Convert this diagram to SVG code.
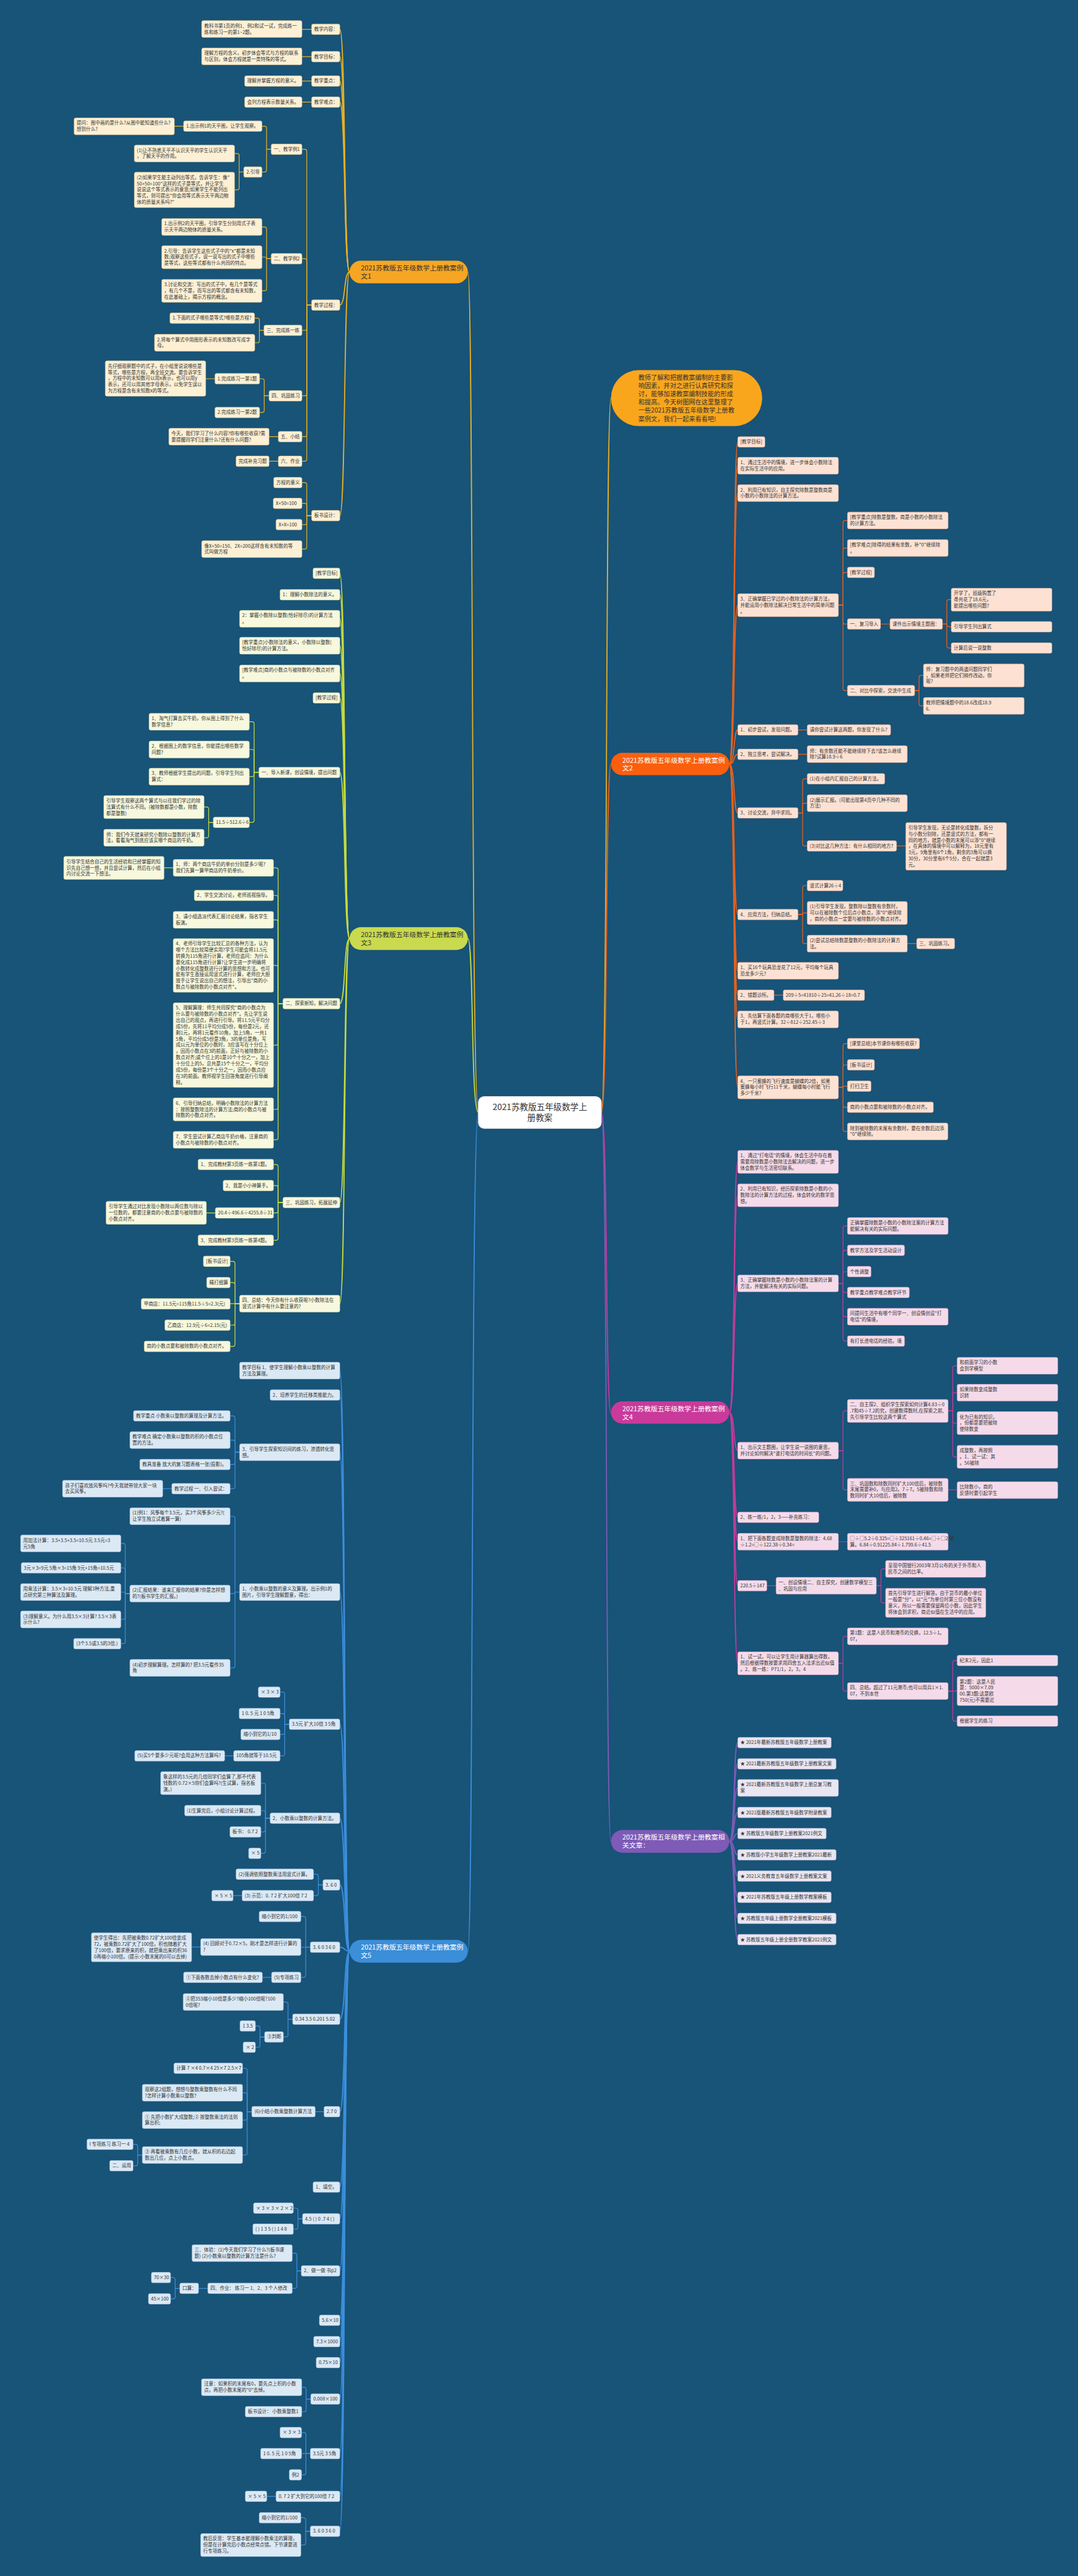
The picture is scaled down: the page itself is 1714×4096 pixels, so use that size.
<svg xmlns="http://www.w3.org/2000/svg" width="1714" height="4096" viewBox="0 0 1714 4096">
<style>
text{font-family:"Noto Sans CJK SC","Noto Sans",sans-serif;font-size:11.2px;fill:#333}
.n rect{rx:4px;stroke-width:.8}
.m rect{rx:27px}
.m text{font-size:16px;fill:#fff}
.g1 rect{fill:#fdf0d5;stroke:#e8cd8c}
.g3 rect{fill:#f7f8dd;stroke:#dde6a2}
.g5 rect{fill:#dbe9f5;stroke:#a7c8e6}
.g2 rect{fill:#fde2d3;stroke:#f0b496}
.g4 rect{fill:#f5dbe9;stroke:#e0a5c8}
.g6 rect{fill:#e9e6f2;stroke:#c3b7de}
#conn path{fill:none;stroke-width:1.8;stroke-linecap:round}
.c1{stroke:#e8b124}.c3{stroke:#c5dc3e}.c5{stroke:#3c8fdb}.c2{stroke:#e8611c}.c4{stroke:#c33b99}.c6{stroke:#7b5cb5}
#conn path.t{stroke-width:2.6}
</style>
<rect width="1714" height="4096" fill="#185378"/>
<g transform="scale(0.66953)">
<g id="conn">
<path class="c1 t" d="M1136 2642C1118 2642 1125 646 1111 646"/>
<path class="c3 t" d="M1136 2642C1118 2642 1125 2229 1111 2229"/>
<path class="c5 t" d="M1136 2642C1118 2642 1125 4634 1111 4634"/>
<path class="c1 t" d="M1428 2642C1444 2642 1437 945.5 1451 945.5"/>
<path class="c2 t" d="M1428 2642C1444 2642 1437 1814.5 1451 1814.5"/>
<path class="c4 t" d="M1428 2642C1444 2642 1437 3354.5 1451 3354.5"/>
<path class="c6 t" d="M1428 2642C1444 2642 1437 4373 1451 4373"/>
<path class="c1 t" d="M830 646C816 646 821 69.5 807 69.5"/>
<path class="c1 t" d="M830 646C816 646 821 134.5 807 134.5"/>
<path class="c1 t" d="M830 646C816 646 821 192.5 807 192.5"/>
<path class="c1 t" d="M830 646C816 646 821 242.5 807 242.5"/>
<path class="c1 t" d="M830 646C816 646 821 724.5 807 724.5"/>
<path class="c1 t" d="M830 646C816 646 821 1224.5 807 1224.5"/>
<path class="c1" d="M740 69.5H717"/>
<path class="c1" d="M740 134.5H717"/>
<path class="c1" d="M740 192.5H717"/>
<path class="c1" d="M740 242.5H717"/>
<path class="c1" d="M740 724.5H728.5V359.5Q728.5 354.5 723.5 354.5H717"/>
<path class="c1" d="M740 724.5H728.5V619.5Q728.5 614.5 723.5 614.5H717"/>
<path class="c1" d="M740 724.5H728.5V779.5Q728.5 784.5 723.5 784.5H717"/>
<path class="c1" d="M740 724.5H728.5V935Q728.5 940 723.5 940H717"/>
<path class="c1" d="M740 724.5H728.5V1032Q728.5 1037 723.5 1037H717"/>
<path class="c1" d="M740 724.5H728.5V1090.5Q728.5 1095.5 723.5 1095.5H717"/>
<path class="c1" d="M644 354.5H633V304.5Q633 299.5 628 299.5H622"/>
<path class="c1" d="M644 354.5H633V403.5Q633 408.5 628 408.5H622"/>
<path class="c1" d="M436 299.5H414"/>
<path class="c1" d="M579 408.5H568V369.5Q568 364.5 563 364.5H557"/>
<path class="c1" d="M579 408.5H568V446Q568 451 563 451H557"/>
<path class="c1" d="M644 614.5H633V544Q633 539 628 539H622"/>
<path class="c1" d="M644 614.5H633Q633 610.5 628 610.5H622"/>
<path class="c1" d="M644 614.5H633V685.5Q633 690.5 628 690.5H622"/>
<path class="c1" d="M627 784.5H616V760.5Q616 755.5 611 755.5H605"/>
<path class="c1" d="M627 784.5H616V809Q616 814 611 814H605"/>
<path class="c1" d="M639 940H627.5V904.5Q627.5 899.5 622.5 899.5H616.5"/>
<path class="c1" d="M639 940H627.5V974.5Q627.5 979.5 622.5 979.5H616.5"/>
<path class="c1" d="M510.5 899.5H488.5"/>
<path class="c1" d="M661 1037H639"/>
<path class="c1" d="M661 1095.5H639"/>
<path class="c1" d="M740 1224.5H728.5V1151Q728.5 1146 723.5 1146H717"/>
<path class="c1" d="M740 1224.5H728.5V1200.5Q728.5 1195.5 723.5 1195.5H717"/>
<path class="c1" d="M740 1224.5H728.5V1241Q728.5 1246 723.5 1246H717"/>
<path class="c1" d="M740 1224.5H728.5V1299Q728.5 1304 723.5 1304H717"/>
<path class="c3 t" d="M830 2229C816 2229 821 1361.5 807 1361.5"/>
<path class="c3 t" d="M830 2229C816 2229 821 1412.5 807 1412.5"/>
<path class="c3 t" d="M830 2229C816 2229 821 1469.5 807 1469.5"/>
<path class="c3 t" d="M830 2229C816 2229 821 1533.5 807 1533.5"/>
<path class="c3 t" d="M830 2229C816 2229 821 1599.5 807 1599.5"/>
<path class="c3 t" d="M830 2229C816 2229 821 1657.5 807 1657.5"/>
<path class="c3 t" d="M830 2229C816 2229 821 1834.5 807 1834.5"/>
<path class="c3 t" d="M830 2229C816 2229 821 2383.5 807 2383.5"/>
<path class="c3 t" d="M830 2229C816 2229 821 2856 807 2856"/>
<path class="c3 t" d="M830 2229C816 2229 821 3096 807 3096"/>
<path class="c3" d="M615 1834.5H603.5V1719Q603.5 1714 598.5 1714H592"/>
<path class="c3" d="M615 1834.5H603.5V1785Q603.5 1780 598.5 1780H592"/>
<path class="c3" d="M615 1834.5H603.5V1839.5Q603.5 1844.5 598.5 1844.5H592"/>
<path class="c3" d="M615 1834.5H603.5V1948Q603.5 1953 598.5 1953H592"/>
<path class="c3" d="M506.5 1953H495.5V1921.5Q495.5 1916.5 490.5 1916.5H484.5"/>
<path class="c3" d="M506.5 1953H495.5V1984.5Q495.5 1989.5 490.5 1989.5H484.5"/>
<path class="c3" d="M672 2383.5H660.5V2066Q660.5 2061 655.5 2061H649.5"/>
<path class="c3" d="M672 2383.5H660.5V2131.5Q660.5 2126.5 655.5 2126.5H649.5"/>
<path class="c3" d="M672 2383.5H660.5V2189.5Q660.5 2184.5 655.5 2184.5H649.5"/>
<path class="c3" d="M672 2383.5H660.5V2297.8Q660.5 2292.8 655.5 2292.8H649.5"/>
<path class="c3" d="M672 2383.5H660.5V2477Q660.5 2482 655.5 2482H649.5"/>
<path class="c3" d="M672 2383.5H660.5V2629.7Q660.5 2634.7 655.5 2634.7H649.5"/>
<path class="c3" d="M672 2383.5H660.5V2702Q660.5 2707 655.5 2707H649.5"/>
<path class="c3" d="M411.5 2061H389.5"/>
<path class="c3" d="M672 2856H660.5V2770.5Q660.5 2765.5 655.5 2765.5H649.5"/>
<path class="c3" d="M672 2856H660.5V2820.5Q660.5 2815.5 655.5 2815.5H649.5"/>
<path class="c3" d="M672 2856H660.5V2875.5Q660.5 2880.5 655.5 2880.5H649.5"/>
<path class="c3" d="M672 2856H660.5V2940.5Q660.5 2945.5 655.5 2945.5H649.5"/>
<path class="c3" d="M511.5 2880.5H490"/>
<path class="c3" d="M569 3096H558V3000.5Q558 2995.5 553 2995.5H546.5"/>
<path class="c3" d="M569 3096H558V3051Q558 3046 553 3046H546.5"/>
<path class="c3" d="M569 3096H546.5"/>
<path class="c3" d="M569 3096H558V3142Q558 3147 553 3147H546.5"/>
<path class="c3" d="M569 3096H558V3192.5Q558 3197.5 553 3197.5H546.5"/>
<path class="c5 t" d="M830 4634C816 4634 821 3255 807 3255"/>
<path class="c5 t" d="M830 4634C816 4634 821 3313 807 3313"/>
<path class="c5 t" d="M830 4634C816 4634 821 3449 807 3449"/>
<path class="c5 t" d="M830 4634C816 4634 821 3781 807 3781"/>
<path class="c5 t" d="M830 4634C816 4634 821 4095 807 4095"/>
<path class="c5 t" d="M830 4634C816 4634 821 4318 807 4318"/>
<path class="c5 t" d="M830 4634C816 4634 821 4476.5 807 4476.5"/>
<path class="c5 t" d="M830 4634C816 4634 821 4624.5 807 4624.5"/>
<path class="c5 t" d="M830 4634C816 4634 821 4795.5 807 4795.5"/>
<path class="c5 t" d="M830 4634C816 4634 821 5015 807 5015"/>
<path class="c5 t" d="M830 4634C816 4634 821 5194 807 5194"/>
<path class="c5 t" d="M830 4634C816 4634 821 5269.5 807 5269.5"/>
<path class="c5 t" d="M830 4634C816 4634 821 5393 807 5393"/>
<path class="c5 t" d="M830 4634C816 4634 821 5510.5 807 5510.5"/>
<path class="c5 t" d="M830 4634C816 4634 821 5561 807 5561"/>
<path class="c5 t" d="M830 4634C816 4634 821 5611 807 5611"/>
<path class="c5 t" d="M830 4634C816 4634 821 5697.5 807 5697.5"/>
<path class="c5 t" d="M830 4634C816 4634 821 5827 807 5827"/>
<path class="c5 t" d="M830 4634C816 4634 821 5928.5 807 5928.5"/>
<path class="c5 t" d="M830 4634C816 4634 821 6011.5 807 6011.5"/>
<path class="c5" d="M569 3449H558V3367.5Q558 3362.5 553 3362.5H546.5"/>
<path class="c5" d="M569 3449H558V3425Q558 3420 553 3420H546.5"/>
<path class="c5" d="M569 3449H558V3473Q558 3478 553 3478H546.5"/>
<path class="c5" d="M569 3449H558V3530.5Q558 3535.5 553 3535.5H546.5"/>
<path class="c5" d="M408 3535.5H386.5"/>
<path class="c5" d="M569 3781H558V3606Q558 3601 553 3601H546.5"/>
<path class="c5" d="M569 3781H558Q558 3784.5 553 3784.5H546.5"/>
<path class="c5" d="M569 3781H558V3956Q558 3961 553 3961H546.5"/>
<path class="c5" d="M308.5 3784.5H297.5V3670.5Q297.5 3665.5 292.5 3665.5H287"/>
<path class="c5" d="M308.5 3784.5H297.5V3728.5Q297.5 3723.5 292.5 3723.5H287"/>
<path class="c5" d="M308.5 3784.5H297.5Q297.5 3781 292.5 3781H287"/>
<path class="c5" d="M308.5 3784.5H297.5V3841Q297.5 3846 292.5 3846H287"/>
<path class="c5" d="M308.5 3784.5H297.5V3898.5Q297.5 3903.5 292.5 3903.5H287"/>
<path class="c5" d="M687 4095H676V4023.5Q676 4018.5 671 4018.5H665"/>
<path class="c5" d="M687 4095H676V4074.5Q676 4069.5 671 4069.5H665"/>
<path class="c5" d="M687 4095H676V4114Q676 4119 671 4119H665"/>
<path class="c5" d="M687 4095H676V4165Q676 4170 671 4170H665"/>
<path class="c5" d="M555 4170H533.5"/>
<path class="c5" d="M641.5 4318H630.5V4239.7Q630.5 4234.7 625.5 4234.7H619.5"/>
<path class="c5" d="M641.5 4318H630.5V4305Q630.5 4300 625.5 4300H619.5"/>
<path class="c5" d="M641.5 4318H630.5V4345.5Q630.5 4350.5 625.5 4350.5H619.5"/>
<path class="c5" d="M641.5 4318H630.5V4396.5Q630.5 4401.5 625.5 4401.5H619.5"/>
<path class="c5" d="M767 4476.5H756V4456Q756 4451 751 4451H744.5"/>
<path class="c5" d="M767 4476.5H756V4497Q756 4502 751 4502H744.5"/>
<path class="c5" d="M575 4502H553.5"/>
<path class="c5" d="M737 4624.5H726V4556.5Q726 4551.5 721 4551.5H714.5"/>
<path class="c5" d="M737 4624.5H714.5"/>
<path class="c5" d="M737 4624.5H726V4691Q726 4696 721 4696H714.5"/>
<path class="c5" d="M476.5 4624H455"/>
<path class="c5" d="M645 4696H623"/>
<path class="c5" d="M695 4795.5H684V4759.5Q684 4754.5 679 4754.5H673"/>
<path class="c5" d="M695 4795.5H684V4832.5Q684 4837.5 679 4837.5H673"/>
<path class="c5" d="M628.5 4837.5H617.5V4816.5Q617.5 4811.5 612.5 4811.5H606.5"/>
<path class="c5" d="M628.5 4837.5H617.5V4857Q617.5 4862 612.5 4862H606.5"/>
<path class="c5" d="M769.5 5015H748.5"/>
<path class="c5" d="M598 5015H587V4917Q587 4912 582 4912H576"/>
<path class="c5" d="M598 5015H587V4975Q587 4970 582 4970H576"/>
<path class="c5" d="M598 5015H587V5030Q587 5035 582 5035H576"/>
<path class="c5" d="M598 5015H587V5113Q587 5118 582 5118H576"/>
<path class="c5" d="M338 5118H327V5097.5Q327 5092.5 322 5092.5H316"/>
<path class="c5" d="M338 5118H327V5138.5Q327 5143.5 322 5143.5H316"/>
<path class="c5" d="M718.5 5269.5H707.5V5249Q707.5 5244 702.5 5244H696.5"/>
<path class="c5" d="M718.5 5269.5H707.5V5289Q707.5 5294 702.5 5294H696.5"/>
<path class="c5" d="M715.5 5393H705V5356Q705 5351 700 5351H694"/>
<path class="c5" d="M715.5 5393H705V5429.5Q705 5434.5 700 5434.5H694"/>
<path class="c5" d="M493.5 5434.5H471.5"/>
<path class="c5" d="M427 5434.5H416V5414Q416 5409 411 5409H405"/>
<path class="c5" d="M427 5434.5H416V5454.5Q416 5459.5 411 5459.5H405"/>
<path class="c5" d="M738 5697.5H727V5674.5Q727 5669.5 722 5669.5H716.5"/>
<path class="c5" d="M738 5697.5H727V5722.5Q727 5727.5 722 5727.5H716.5"/>
<path class="c5" d="M737 5827H726.5V5782Q726.5 5777 721.5 5777H716"/>
<path class="c5" d="M737 5827H716"/>
<path class="c5" d="M737 5827H726.5V5872.5Q726.5 5877.5 721.5 5877.5H716"/>
<path class="c5" d="M655.5 5928.5H633.5"/>
<path class="c5" d="M737 6011.5H726V5984.5Q726 5979.5 721 5979.5H714.5"/>
<path class="c5" d="M737 6011.5H726V6039Q726 6044 721 6044H714.5"/>
<path class="c2 t" d="M1732 1814.5C1746 1814.5 1741 1049.5 1752 1049.5"/>
<path class="c2 t" d="M1732 1814.5C1746 1814.5 1741 1106 1752 1106"/>
<path class="c2 t" d="M1732 1814.5C1746 1814.5 1741 1171 1752 1171"/>
<path class="c2 t" d="M1732 1814.5C1746 1814.5 1741 1437 1752 1437"/>
<path class="c2 t" d="M1732 1814.5C1746 1814.5 1741 1733.5 1752 1733.5"/>
<path class="c2 t" d="M1732 1814.5C1746 1814.5 1741 1791.5 1752 1791.5"/>
<path class="c2 t" d="M1732 1814.5C1746 1814.5 1741 1930.5 1752 1930.5"/>
<path class="c2 t" d="M1732 1814.5C1746 1814.5 1741 2172 1752 2172"/>
<path class="c2 t" d="M1732 1814.5C1746 1814.5 1741 2305.5 1752 2305.5"/>
<path class="c2 t" d="M1732 1814.5C1746 1814.5 1741 2363.5 1752 2363.5"/>
<path class="c2 t" d="M1732 1814.5C1746 1814.5 1741 2421 1752 2421"/>
<path class="c2 t" d="M1732 1814.5C1746 1814.5 1741 2582 1752 2582"/>
<path class="c2" d="M1991 1437H2002V1241Q2002 1236 2007 1236H2012.5"/>
<path class="c2" d="M1991 1437H2002V1306.5Q2002 1301.5 2007 1301.5H2012.5"/>
<path class="c2" d="M1991 1437H2002V1364.5Q2002 1359.5 2007 1359.5H2012.5"/>
<path class="c2" d="M1991 1437H2002V1477Q2002 1482 2007 1482H2012.5"/>
<path class="c2" d="M1991 1437H2002V1635Q2002 1640 2007 1640H2012.5"/>
<path class="c2" d="M2091 1482H2113.5"/>
<path class="c2" d="M2238 1482H2248.5V1429Q2248.5 1424 2253.5 1424H2259"/>
<path class="c2" d="M2238 1482H2248.5Q2248.5 1488.5 2253.5 1488.5H2259"/>
<path class="c2" d="M2238 1482H2248.5V1534Q2248.5 1539 2253.5 1539H2259"/>
<path class="c2" d="M2172 1640H2182.5V1609Q2182.5 1604 2187.5 1604H2193"/>
<path class="c2" d="M2172 1640H2182.5V1671.5Q2182.5 1676.5 2187.5 1676.5H2193"/>
<path class="c2" d="M1895 1733.5H1917"/>
<path class="c2" d="M1895 1791.5H1917"/>
<path class="c2" d="M1895 1930.5H1906V1854.5Q1906 1849.5 1911 1849.5H1917"/>
<path class="c2" d="M1895 1930.5H1906V1912.5Q1906 1907.5 1911 1907.5H1917"/>
<path class="c2" d="M1895 1930.5H1906V2004Q1906 2009 1911 2009H1917"/>
<path class="c2" d="M2129 2009H2151"/>
<path class="c2" d="M1895 2172H1906V2108Q1906 2103 1911 2103H1917"/>
<path class="c2" d="M1895 2172H1906Q1906 2168 1911 2168H1917"/>
<path class="c2" d="M1895 2172H1906V2236Q1906 2241 1911 2241H1917"/>
<path class="c2" d="M2154.5 2241H2177"/>
<path class="c2" d="M1838 2363.5H1860"/>
<path class="c2" d="M1991 2582H2002V2483.5Q2002 2478.5 2007 2478.5H2012.5"/>
<path class="c2" d="M1991 2582H2002V2534Q2002 2529 2007 2529H2012.5"/>
<path class="c2" d="M1991 2582H2002Q2002 2579.5 2007 2579.5H2012.5"/>
<path class="c2" d="M1991 2582H2002V2624.5Q2002 2629.5 2007 2629.5H2012.5"/>
<path class="c2" d="M1991 2582H2002V2682Q2002 2687 2007 2687H2012.5"/>
<path class="c4 t" d="M1732 3354.5C1746 3354.5 1741 2759 1752 2759"/>
<path class="c4 t" d="M1732 3354.5C1746 3354.5 1741 2838.5 1752 2838.5"/>
<path class="c4 t" d="M1732 3354.5C1746 3354.5 1741 3048 1752 3048"/>
<path class="c4 t" d="M1732 3354.5C1746 3354.5 1741 3445 1752 3445"/>
<path class="c4 t" d="M1732 3354.5C1746 3354.5 1741 3603.5 1752 3603.5"/>
<path class="c4 t" d="M1732 3354.5C1746 3354.5 1741 3661.5 1752 3661.5"/>
<path class="c4 t" d="M1732 3354.5C1746 3354.5 1741 3766 1752 3766"/>
<path class="c4 t" d="M1732 3354.5C1746 3354.5 1741 3950 1752 3950"/>
<path class="c4" d="M1991 3048H2002V2916.5Q2002 2911.5 2007 2911.5H2012.5"/>
<path class="c4" d="M1991 3048H2002V2974.5Q2002 2969.5 2007 2969.5H2012.5"/>
<path class="c4" d="M1991 3048H2002V3025Q2002 3020 2007 3020H2012.5"/>
<path class="c4" d="M1991 3048H2002V3064.5Q2002 3069.5 2007 3069.5H2012.5"/>
<path class="c4" d="M1991 3048H2002V3122Q2002 3127 2007 3127H2012.5"/>
<path class="c4" d="M1991 3048H2002V3180Q2002 3185 2007 3185H2012.5"/>
<path class="c4" d="M1991 3445H2002V3355.7Q2002 3350.7 2007 3350.7H2012.5"/>
<path class="c4" d="M1991 3445H2002V3533Q2002 3538 2007 3538H2012.5"/>
<path class="c4" d="M2251.5 3350.7H2262.5V3248.5Q2262.5 3243.5 2267.5 3243.5H2273"/>
<path class="c4" d="M2251.5 3350.7H2262.5V3312.5Q2262.5 3307.5 2267.5 3307.5H2273"/>
<path class="c4" d="M2251.5 3350.7H2262.5V3375Q2262.5 3380 2267.5 3380H2273"/>
<path class="c4" d="M2251.5 3350.7H2262.5V3455Q2262.5 3460 2267.5 3460H2273"/>
<path class="c4" d="M2251.5 3538H2273"/>
<path class="c4" d="M1991 3661.5H2012.5"/>
<path class="c4" d="M1821 3766H1843"/>
<path class="c4" d="M2081 3766H2092V3731Q2092 3726 2097 3726H2103"/>
<path class="c4" d="M2081 3766H2092V3801.5Q2092 3806.5 2097 3806.5H2103"/>
<path class="c4" d="M1991 3950H2002V3891Q2002 3886 2007 3886H2012.5"/>
<path class="c4" d="M1991 3950H2002V4011Q2002 4016 2007 4016H2012.5"/>
<path class="c4" d="M2251.5 4016H2262.5V3948.5Q2262.5 3943.5 2267.5 3943.5H2273"/>
<path class="c4" d="M2251.5 4016H2273"/>
<path class="c4" d="M2251.5 4016H2262.5V4082.5Q2262.5 4087.5 2267.5 4087.5H2273"/>
<path class="c6 t" d="M1732 4373C1746 4373 1741 4138.5 1752 4138.5"/>
<path class="c6 t" d="M1732 4373C1746 4373 1741 4189 1752 4189"/>
<path class="c6 t" d="M1732 4373C1746 4373 1741 4246 1752 4246"/>
<path class="c6 t" d="M1732 4373C1746 4373 1741 4304.5 1752 4304.5"/>
<path class="c6 t" d="M1732 4373C1746 4373 1741 4354.5 1752 4354.5"/>
<path class="c6 t" d="M1732 4373C1746 4373 1741 4405 1752 4405"/>
<path class="c6 t" d="M1732 4373C1746 4373 1741 4455.5 1752 4455.5"/>
<path class="c6 t" d="M1732 4373C1746 4373 1741 4506 1752 4506"/>
<path class="c6 t" d="M1732 4373C1746 4373 1741 4556 1752 4556"/>
<path class="c6 t" d="M1732 4373C1746 4373 1741 4606.5 1752 4606.5"/>
</g>

<g id="center"><rect x="1136" y="2604" width="292" height="76" rx="14" fill="#fff" stroke="#e3e3e3" stroke-width="1.5"/><text x="1282" y="2636" text-anchor="middle" style="font-size:20px">2021苏教版五年级数学上</text><text x="1282" y="2662" text-anchor="middle" style="font-size:20px">册教案</text></g>

<g id="intro"><rect x="1451" y="879" width="359" height="133" rx="66" fill="#f9a61c"/><text style="font-size:15px"><tspan x="1516" y="902">教师了解和把握教案编制的主要影</tspan><tspan x="1516" y="922">响因素，并对之进行认真研究和探</tspan><tspan x="1516" y="941">讨，能够加速教案编制技能的形成</tspan><tspan x="1516" y="961">和提高。今天树图网在这里整理了</tspan><tspan x="1516" y="980">一些2021苏教版五年级数学上册教</tspan><tspan x="1516" y="1000">案例文，我们一起来看看吧!</tspan></text></g>

<g id="M1" class="m" transform="translate(830,619)"><rect width="281" height="54" fill="#f6a623"/><text style="fill:#333"><tspan x="27" y="23">2021苏教版五年级数学上册教案例</tspan><tspan x="27" y="42.3">文1</tspan></text></g>
<g id="M3" class="m" transform="translate(830,2202)"><rect width="281" height="54" fill="#c9da4f"/><text style="fill:#333"><tspan x="27" y="23">2021苏教版五年级数学上册教案例</tspan><tspan x="27" y="42.3">文3</tspan></text></g>
<g id="M5" class="m" transform="translate(830,4607)"><rect width="281" height="54" fill="#3b8ed8"/><text><tspan x="27" y="23">2021苏教版五年级数学上册教案例</tspan><tspan x="27" y="42.3">文5</tspan></text></g>
<g id="M2" class="m" transform="translate(1451,1788)"><rect width="281" height="53" fill="#fa5f0e"/><text><tspan x="27" y="23">2021苏教版五年级数学上册教案例</tspan><tspan x="27" y="42.3">文2</tspan></text></g>
<g id="M4" class="m" transform="translate(1451,3328)"><rect width="281" height="53" fill="#c93a9b"/><text><tspan x="27" y="23">2021苏教版五年级数学上册教案例</tspan><tspan x="27" y="42.3">文4</tspan></text></g>
<g id="M6" class="m" transform="translate(1451,4346)"><rect width="281" height="54" fill="#7d5bb7"/><text><tspan x="27" y="23">2021苏教版五年级数学上册教案相</tspan><tspan x="27" y="42.3">关文章：</tspan></text></g>

<g id="A1" class="n g1" transform="translate(740,57)"><rect width="67" height="25"/><text x="6" y="16.3">教学内容：</text></g>
<g id="A1a" class="n g1" transform="translate(479,49)"><rect width="238" height="40"/><text><tspan x="6" y="16.3">教科书第1页的例1、例2和试一试，完成练一</tspan><tspan x="6" y="31">练和练习一的第1~2题。</tspan></text></g>
<g id="A2" class="n g1" transform="translate(740,122)"><rect width="67" height="25"/><text x="6" y="16.3">教学目标：</text></g>
<g id="A2a" class="n g1" transform="translate(479,114)"><rect width="238" height="40"/><text><tspan x="6" y="16.3">理解方程的含义，初步体会等式与方程的联系</tspan><tspan x="6" y="31">与区别，体会方程就是一类特殊的等式。</tspan></text></g>
<g id="A3" class="n g1" transform="translate(740,180)"><rect width="67" height="25"/><text x="6" y="16.3">教学重点：</text></g>
<g id="A3a" class="n g1" transform="translate(581,180)"><rect width="136" height="25"/><text x="6" y="16.3">理解并掌握方程的意义。</text></g>
<g id="A4" class="n g1" transform="translate(740,230)"><rect width="67" height="25"/><text x="6" y="16.3">教学难点：</text></g>
<g id="A4a" class="n g1" transform="translate(581,230)"><rect width="136" height="25"/><text x="6" y="16.3">会列方程表示数量关系。</text></g>
<g id="A5" class="n g1" transform="translate(740,712)"><rect width="67" height="25"/><text x="6" y="16.3">教学过程：</text></g>
<g id="A5a" class="n g1" transform="translate(644,342)"><rect width="73" height="25"/><text x="6" y="16.3">一、教学例1</text></g>
<g id="A5a1" class="n g1" transform="translate(436,287)"><rect width="186" height="25"/><text x="6" y="16.3">1.出示例1的天平图，让学生观察。</text></g>
<g id="A5a1a" class="n g1" transform="translate(176,280)"><rect width="238" height="40"/><text><tspan x="6" y="16.3">提问：图中画的是什么?从图中能知道些什么?</tspan><tspan x="6" y="31">想到什么?</tspan></text></g>
<g id="A5a2" class="n g1" transform="translate(579,396)"><rect width="43" height="25"/><text x="6" y="16.3">2.引导</text></g>
<g id="A5a2a" class="n g1" transform="translate(319,344.5)"><rect width="238" height="40"/><text><tspan x="6" y="16.3">(1)让不熟悉天平不认识天平的学生认识天平</tspan><tspan x="6" y="31">，了解天平的作用。</tspan></text></g>
<g id="A5a2b" class="n g1" transform="translate(319,409)"><rect width="238" height="84"/><text><tspan x="6" y="16.3">(2)如果学生能主动列出等式，告诉学生：像"</tspan><tspan x="6" y="31">50+50=100"这样的式子是等式，并让学生</tspan><tspan x="6" y="45.7">说说这个等式表示的意思;如果学生不能列出</tspan><tspan x="6" y="60.4">等式，则可提出"你会用等式表示天平两边物</tspan><tspan x="6" y="75.1">体的质量关系吗?"</tspan></text></g>
<g id="A5b" class="n g1" transform="translate(644,602)"><rect width="73" height="25"/><text x="6" y="16.3">二、教学例2</text></g>
<g id="A5b1" class="n g1" transform="translate(384,519)"><rect width="238" height="40"/><text><tspan x="6" y="16.3">1.出示例2的天平图，引导学生分别用式子表</tspan><tspan x="6" y="31">示天平两边物体的质量关系。</tspan></text></g>
<g id="A5b2" class="n g1" transform="translate(384,583.5)"><rect width="238" height="54.5"/><text><tspan x="6" y="16.3">2.引导：告诉学生这些式子中的"x"都是未知</tspan><tspan x="6" y="31">数;观察这些式子，说一说写出的式子中哪些</tspan><tspan x="6" y="45.7">是等式，这些等式都有什么共同的特点。</tspan></text></g>
<g id="A5b3" class="n g1" transform="translate(384,663.5)"><rect width="238" height="54.5"/><text><tspan x="6" y="16.3">3.讨论和交流：写出的式子中，有几个是等式</tspan><tspan x="6" y="31">，有几个不是，而写出的等式都含有未知数，</tspan><tspan x="6" y="45.7">在此基础上，揭示方程的概念。</tspan></text></g>
<g id="A5c" class="n g1" transform="translate(627,772)"><rect width="90" height="25"/><text x="6" y="16.3">三、完成练一练</text></g>
<g id="A5c1" class="n g1" transform="translate(403.5,743)"><rect width="201" height="25"/><text x="6" y="16.3">1.下面的式子哪些是等式?哪些是方程?</text></g>
<g id="A5c2" class="n g1" transform="translate(367,794)"><rect width="238" height="40"/><text><tspan x="6" y="16.3">2.将每个算式中用图形表示的未知数改写成字</tspan><tspan x="6" y="31">母。</tspan></text></g>
<g id="A5d" class="n g1" transform="translate(639,927.5)"><rect width="78" height="25"/><text x="6" y="16.3">四、巩固练习</text></g>
<g id="A5d1" class="n g1" transform="translate(510.5,887)"><rect width="106" height="25"/><text x="6" y="16.3">1.完成练习一第1题</text></g>
<g id="A5d1a" class="n g1" transform="translate(250,857)"><rect width="238.5" height="84"/><text><tspan x="6" y="16.3">先仔细观察题中的式子，在小组里说说哪些是</tspan><tspan x="6" y="31">等式，哪些是方程，再全班交流。要告诉学生</tspan><tspan x="6" y="45.7">，方程中的未知数可以用x表示，也可以用y</tspan><tspan x="6" y="60.4">表示，还可以用其他字母表示，以免学生误以</tspan><tspan x="6" y="75.1">为方程是含有未知数x的等式。</tspan></text></g>
<g id="A5d2" class="n g1" transform="translate(510.5,967)"><rect width="106" height="25"/><text x="6" y="16.3">2.完成练习一第2题</text></g>
<g id="A5e" class="n g1" transform="translate(661,1024.5)"><rect width="56" height="25"/><text x="6" y="16.3">五、小结</text></g>
<g id="A5e1" class="n g1" transform="translate(401,1017)"><rect width="238" height="40"/><text><tspan x="6" y="16.3">今天，我们学习了什么内容?你有哪些收获?需</tspan><tspan x="6" y="31">要提醒同学们注意什么?还有什么问题?</tspan></text></g>
<g id="A5f" class="n g1" transform="translate(661,1083)"><rect width="56" height="25"/><text x="6" y="16.3">六、作业</text></g>
<g id="A5f1" class="n g1" transform="translate(560.5,1083)"><rect width="78.5" height="25"/><text x="6" y="16.3">完成补充习题</text></g>
<g id="A6" class="n g1" transform="translate(740,1212)"><rect width="67" height="25"/><text x="6" y="16.3">板书设计：</text></g>
<g id="A6a" class="n g1" transform="translate(650,1133.5)"><rect width="67" height="25"/><text x="6" y="16.3">方程的意义</text></g>
<g id="A6b" class="n g1" transform="translate(649,1183)"><rect width="68" height="25"/><text x="6" y="16.3">X+50=100</text></g>
<g id="A6c" class="n g1" transform="translate(655.5,1233.5)"><rect width="61.5" height="25"/><text x="6" y="16.3">X+X=100</text></g>
<g id="A6d" class="n g1" transform="translate(479,1284)"><rect width="238" height="40"/><text><tspan x="6" y="16.3">像X+50=150、2X=200这样含有未知数的等</tspan><tspan x="6" y="31">式叫做方程</tspan></text></g>

<g id="B1" class="n g3" transform="translate(743.5,1349)"><rect width="63.5" height="25"/><text x="6" y="16.3">[教学目标]</text></g>
<g id="B2" class="n g3" transform="translate(665,1400)"><rect width="142" height="25"/><text x="6" y="16.3">1：理解小数除法的意义。</text></g>
<g id="B3" class="n g3" transform="translate(569,1449.5)"><rect width="238" height="40"/><text><tspan x="6" y="16.3">2：掌握小数除以整数(恰好除尽)的计算方法</tspan><tspan x="6" y="31">。</tspan></text></g>
<g id="B4" class="n g3" transform="translate(569,1513.5)"><rect width="238" height="40"/><text><tspan x="6" y="16.3">[教学重点]小数除法的意义，小数除以整数(</tspan><tspan x="6" y="31">恰好除尽)的计算方法。</tspan></text></g>
<g id="B5" class="n g3" transform="translate(569,1579.5)"><rect width="238" height="40"/><text><tspan x="6" y="16.3">[教学难点]商的小数点与被除数的小数点对齐</tspan><tspan x="6" y="31">。</tspan></text></g>
<g id="B6" class="n g3" transform="translate(743.5,1645)"><rect width="63.5" height="25"/><text x="6" y="16.3">[教学过程]</text></g>
<g id="B7" class="n g3" transform="translate(615,1822)"><rect width="192" height="25"/><text x="6" y="16.3">一、导入新课，创设情境，提出问题</text></g>
<g id="B7a" class="n g3" transform="translate(354,1694)"><rect width="238" height="40"/><text><tspan x="6" y="16.3">1、淘气打算去买牛奶，你从图上得到了什么</tspan><tspan x="6" y="31">数学信息?</tspan></text></g>
<g id="B7b" class="n g3" transform="translate(354,1760)"><rect width="238" height="40"/><text><tspan x="6" y="16.3">2、根据图上的数学信息，你能提出哪些数学</tspan><tspan x="6" y="31">问题?</tspan></text></g>
<g id="B7c" class="n g3" transform="translate(354,1824.5)"><rect width="238" height="40"/><text><tspan x="6" y="16.3">3、教师根据学生提出的问题，引导学生列出</tspan><tspan x="6" y="31">算式：</tspan></text></g>
<g id="B7d" class="n g3" transform="translate(506.5,1940.5)"><rect width="85.5" height="25"/><text x="6" y="16.3">11.5÷512.6÷6</text></g>
<g id="B7d1" class="n g3" transform="translate(246.5,1889.5)"><rect width="238" height="54.5"/><text><tspan x="6" y="16.3">引导学生观察这两个算式与以往我们学过的除</tspan><tspan x="6" y="31">法算式有什么不同。(被除数都是小数，除数</tspan><tspan x="6" y="45.7">都是整数)</tspan></text></g>
<g id="B7d2" class="n g3" transform="translate(246.5,1969.5)"><rect width="238" height="40"/><text><tspan x="6" y="16.3">师：我们今天就来研究小数除以整数的计算方</tspan><tspan x="6" y="31">法，看看淘气到底应该买哪个商店的牛奶。</tspan></text></g>
<g id="B8" class="n g3" transform="translate(672,2371)"><rect width="135" height="25"/><text x="6" y="16.3">二、探索新知，解决问题</text></g>
<g id="B8a" class="n g3" transform="translate(411.5,2041)"><rect width="238" height="40"/><text><tspan x="6" y="16.3">1、师：两个商店牛奶的单价分别是多少呢?</tspan><tspan x="6" y="31">我们先算一算甲商店的牛奶单价。</tspan></text></g>
<g id="B8a1" class="n g3" transform="translate(151.5,2034)"><rect width="238" height="54.5"/><text><tspan x="6" y="16.3">引导学生结合自己的生活经验和已经掌握的知</tspan><tspan x="6" y="31">识先自己想一想，并且尝试计算，然后在小组</tspan><tspan x="6" y="45.7">内讨论交流一下想法。</tspan></text></g>
<g id="B8b" class="n g3" transform="translate(461.5,2114)"><rect width="188" height="25"/><text x="6" y="16.3">2、学生交流讨论，老师巡视指导。</text></g>
<g id="B8c" class="n g3" transform="translate(411.5,2164.5)"><rect width="238" height="40"/><text><tspan x="6" y="16.3">3、请小组选派代表汇报讨论结果，指名学生</tspan><tspan x="6" y="31">板演。</tspan></text></g>
<g id="B8d" class="n g3" transform="translate(411.5,2229)"><rect width="238" height="127.5"/><text><tspan x="6" y="16.3">4、老师引导学生比较汇总的各种方法，认为</tspan><tspan x="6" y="31">哪个方法比较简便实用?学生可能会将11.5元</tspan><tspan x="6" y="45.7">转换为115角进行计算，老师应追问：为什么</tspan><tspan x="6" y="60.4">要化成115角进行计算?让学生进一步明确将</tspan><tspan x="6" y="75.1">小数转化成整数进行计算的思想和方法。也可</tspan><tspan x="6" y="89.8">能有学生直接运用竖式进行计算，老师应大胆</tspan><tspan x="6" y="104.5">放手让学生说出自己的想法，引导出"商的小</tspan><tspan x="6" y="119.2">数点与被除数的小数点对齐"。</tspan></text></g>
<g id="B8e" class="n g3" transform="translate(411.5,2381.5)"><rect width="238" height="201"/><text><tspan x="6" y="16.3">5、理解算理：师生共同探究"商的小数点为</tspan><tspan x="6" y="31">什么要与被除数的小数点对齐"。先让学生说</tspan><tspan x="6" y="45.7">出自己的观点，再进行引导。将11.5元平均分</tspan><tspan x="6" y="60.4">成5份，先将11平均分成5份，每份是2元，还</tspan><tspan x="6" y="75.1">剩1元，再将1元看作10角，加上5角，一共1</tspan><tspan x="6" y="89.8">5角，平均分成5份是3角，3的单位是角，写</tspan><tspan x="6" y="104.5">成以元为单位的小数时，3应该写在十分位上</tspan><tspan x="6" y="119.2">，因而小数点在3的前面，正好与被除数的小</tspan><tspan x="6" y="133.9">数点对齐;或个位上的1是10个十分之一，加上</tspan><tspan x="6" y="148.6">十分位上的5，总共是15个十分之一，平均分</tspan><tspan x="6" y="163.3">成5份，每份是3个十分之一，因而小数点应</tspan><tspan x="6" y="178">在3的前面。教师视学生回答角度进行引导阐</tspan><tspan x="6" y="192.7">释。</tspan></text></g>
<g id="B8f" class="n g3" transform="translate(411.5,2607.5)"><rect width="238" height="54.5"/><text><tspan x="6" y="16.3">6、引导归纳总结，明确小数除法的计算方法</tspan><tspan x="6" y="31">：按照整数除法的计算方法;商的小数点与被</tspan><tspan x="6" y="45.7">除数的小数点对齐。</tspan></text></g>
<g id="B8g" class="n g3" transform="translate(411.5,2687)"><rect width="238" height="40"/><text><tspan x="6" y="16.3">7、学生尝试计算乙商店牛奶价格，注意商的</tspan><tspan x="6" y="31">小数点与被除数的小数点对齐。</tspan></text></g>
<g id="B9" class="n g3" transform="translate(672,2843.5)"><rect width="135" height="25"/><text x="6" y="16.3">三、巩固练习，拓展延伸</text></g>
<g id="B9a" class="n g3" transform="translate(470.5,2753)"><rect width="179" height="25"/><text x="6" y="16.3">1、完成教材第3页练一练第1题。</text></g>
<g id="B9b" class="n g3" transform="translate(530,2803)"><rect width="119.5" height="25"/><text x="6" y="16.3">2、我是小小神算手。</text></g>
<g id="B9c" class="n g3" transform="translate(511.5,2868)"><rect width="138" height="25"/><text x="6" y="16.3">20.4÷496.6÷4255.8÷31</text></g>
<g id="B9c1" class="n g3" transform="translate(252,2853)"><rect width="238" height="54.5"/><text><tspan x="6" y="16.3">引导学生通过对比发现小数除以两位数与除以</tspan><tspan x="6" y="31">一位数的，都要注意商的小数点要与被除数的</tspan><tspan x="6" y="45.7">小数点对齐。</tspan></text></g>
<g id="B9d" class="n g3" transform="translate(470.5,2933)"><rect width="179" height="25"/><text x="6" y="16.3">3、完成教材第3页练一练第4题。</text></g>
<g id="B10" class="n g3" transform="translate(569,3076)"><rect width="238" height="40"/><text><tspan x="6" y="16.3">四、总结：今天你有什么收获呢?小数除法在</tspan><tspan x="6" y="31">竖式计算中有什么要注意的?</tspan></text></g>
<g id="B10a" class="n g3" transform="translate(483,2983)"><rect width="63.5" height="25"/><text x="6" y="16.3">[板书设计]</text></g>
<g id="B10b" class="n g3" transform="translate(491,3033.5)"><rect width="55.5" height="25"/><text x="6" y="16.3">精打细算</text></g>
<g id="B10c" class="n g3" transform="translate(335.5,3084)"><rect width="211" height="25"/><text x="6" y="16.3">甲商店：11.5元=115角11.5÷5=2.3(元)</text></g>
<g id="B10d" class="n g3" transform="translate(391.5,3134.5)"><rect width="155" height="25"/><text x="6" y="16.3">乙商店：12.9元÷6=2.15(元)</text></g>
<g id="B10e" class="n g3" transform="translate(342.5,3185)"><rect width="204" height="25"/><text x="6" y="16.3">商的小数点要和被除数的小数点对齐。</text></g>

<g id="C1" class="n g5" transform="translate(569,3235)"><rect width="238" height="40"/><text><tspan x="6" y="16.3">教学目标 1、使学生理解小数乘以整数的计算</tspan><tspan x="6" y="31">方法及算理。</tspan></text></g>
<g id="C2" class="n g5" transform="translate(641.5,3300.5)"><rect width="165.5" height="25"/><text x="6" y="16.3">2、培养学生的迁移类推能力。</text></g>
<g id="C3" class="n g5" transform="translate(569,3429)"><rect width="238" height="40"/><text><tspan x="6" y="16.3">3、引导学生探索知识间的练习，渗透转化思</tspan><tspan x="6" y="31">想。</tspan></text></g>
<g id="C3a" class="n g5" transform="translate(317,3350)"><rect width="229.5" height="25"/><text x="6" y="16.3">教学重点 小数乘以整数的算理及计算方法。</text></g>
<g id="C3b" class="n g5" transform="translate(308.5,3400)"><rect width="238" height="40"/><text><tspan x="6" y="16.3">教学难点 确定小数乘以整数的积的小数点位</tspan><tspan x="6" y="31">置的方法。</tspan></text></g>
<g id="C3c" class="n g5" transform="translate(332,3465.5)"><rect width="214.5" height="25"/><text x="6" y="16.3">教具准备 放大的复习题表格一张(投影)。</text></g>
<g id="C3d" class="n g5" transform="translate(408,3523)"><rect width="138.5" height="25"/><text x="6" y="16.3">教学过程 一、引入尝试：</text></g>
<g id="C3d1" class="n g5" transform="translate(148.5,3515.5)"><rect width="238" height="40"/><text><tspan x="6" y="16.3">孩子们喜欢放风筝吗?今天我就带领大家一块</tspan><tspan x="6" y="31">去买风筝。</tspan></text></g>
<g id="C4" class="n g5" transform="translate(569,3761)"><rect width="238" height="40"/><text><tspan x="6" y="16.3">1、小数乘以整数的意义及算理。出示例1的</tspan><tspan x="6" y="31">图片，引导学生理解题意，得出：</tspan></text></g>
<g id="C4a" class="n g5" transform="translate(308.5,3581)"><rect width="238" height="40"/><text><tspan x="6" y="16.3">(1)例1：风筝每个3.5元，买3个风筝多少元?(</tspan><tspan x="6" y="31">让学生独立试着算一算)</tspan></text></g>
<g id="C4b" class="n g5" transform="translate(308.5,3764.5)"><rect width="238" height="40"/><text><tspan x="6" y="16.3">(2)汇报结果：谁来汇报你的结果?你是怎样想</tspan><tspan x="6" y="31">的?(板书学生的汇报。)</tspan></text></g>
<g id="C4b1" class="n g5" transform="translate(49,3645.5)"><rect width="238" height="40"/><text><tspan x="6" y="16.3">用加法计算：3.5+3.5+3.5=10.5元 3.5元=3</tspan><tspan x="6" y="31">元5角</tspan></text></g>
<g id="C4b2" class="n g5" transform="translate(50.5,3711)"><rect width="236.5" height="25"/><text x="6" y="16.3">3元×3=9元 5角×3=15角 9元+15角=10.5元</text></g>
<g id="C4b3" class="n g5" transform="translate(49,3761)"><rect width="238" height="40"/><text><tspan x="6" y="16.3">用乘法计算：3.5×3=10.5元 理解3种方法,重</tspan><tspan x="6" y="31">点研究第三种算法及算理。</tspan></text></g>
<g id="C4b4" class="n g5" transform="translate(49,3826)"><rect width="238" height="40"/><text><tspan x="6" y="16.3">(3)理解意义。为什么用3.5×3计算? 3.5×3表</tspan><tspan x="6" y="31">示什么?</tspan></text></g>
<g id="C4b5" class="n g5" transform="translate(175,3891)"><rect width="112" height="25"/><text x="6" y="16.3">(3个3.5或3.5的3倍.)</text></g>
<g id="C4c" class="n g5" transform="translate(308.5,3941)"><rect width="238" height="40"/><text><tspan x="6" y="16.3">(4)初步理解算理。怎样算的? 把3.5元看作35</tspan><tspan x="6" y="31">角</tspan></text></g>
<g id="C5" class="n g5" transform="translate(687,4082.5)"><rect width="120" height="25"/><text x="6" y="16.3">3.5元 扩大10倍 3 5角</text></g>
<g id="C5a" class="n g5" transform="translate(613.5,4006)"><rect width="51.5" height="25"/><text x="6" y="16.3">× 3 × 3</text></g>
<g id="C5b" class="n g5" transform="translate(568,4057)"><rect width="97" height="25"/><text x="6" y="16.3">1 0. 5 元 1 0 5角</text></g>
<g id="C5c" class="n g5" transform="translate(572,4106.5)"><rect width="93" height="25"/><text x="6" y="16.3">缩小到它的1/10</text></g>
<g id="C5d" class="n g5" transform="translate(555,4157.5)"><rect width="110" height="25"/><text x="6" y="16.3">105角就等于10.5元</text></g>
<g id="C5d1" class="n g5" transform="translate(320,4157.5)"><rect width="213.5" height="25"/><text x="6" y="16.3">(5)买5个要多少元呢?会用这种方法算吗?</text></g>
<g id="C6" class="n g5" transform="translate(641.5,4305.5)"><rect width="165.5" height="25"/><text x="6" y="16.3">2、小数乘以整数的计算方法。</text></g>
<g id="C6a" class="n g5" transform="translate(381.5,4207.5)"><rect width="238" height="54.5"/><text><tspan x="6" y="16.3">象这样的3.5元的几倍同学们会算了,那不代表</tspan><tspan x="6" y="31">钱数的 0.72×5你们会算吗?(生试算，指名板</tspan><tspan x="6" y="45.7">演。)</tspan></text></g>
<g id="C6b" class="n g5" transform="translate(438.5,4287.5)"><rect width="181" height="25"/><text x="6" y="16.3">⑴生算完后，小组讨论计算过程。</text></g>
<g id="C6c" class="n g5" transform="translate(546,4338)"><rect width="73.5" height="25"/><text x="6" y="16.3">板书： 0.7 2</text></g>
<g id="C6d" class="n g5" transform="translate(590.5,4389)"><rect width="29" height="25"/><text x="6" y="16.3">× 5</text></g>
<g id="C7" class="n g5" transform="translate(767,4464)"><rect width="40" height="25"/><text x="6" y="16.3">3. 6 0</text></g>
<g id="C7a" class="n g5" transform="translate(560.5,4438.5)"><rect width="184" height="25"/><text x="6" y="16.3">(2)强调依照整数乘法用竖式计算。</text></g>
<g id="C7b" class="n g5" transform="translate(575,4489.5)"><rect width="169.5" height="25"/><text x="6" y="16.3">(3) 示范：0. 7 2 扩大100倍 7 2</text></g>
<g id="C7b1" class="n g5" transform="translate(503,4489.5)"><rect width="50.5" height="25"/><text x="6" y="16.3">× 5 × 5</text></g>
<g id="C8" class="n g5" transform="translate(737,4612)"><rect width="70" height="25"/><text x="6" y="16.3">3. 6 0 3 6 0</text></g>
<g id="C8a" class="n g5" transform="translate(615.5,4539)"><rect width="99" height="25"/><text x="6" y="16.3">缩小到它的1/100</text></g>
<g id="C8b" class="n g5" transform="translate(476.5,4604)"><rect width="238" height="40"/><text><tspan x="6" y="16.3">(4) 回顾对于0.72×5，刚才是怎样进行计算的</tspan><tspan x="6" y="31">?</tspan></text></g>
<g id="C8b1" class="n g5" transform="translate(217,4590)"><rect width="238" height="69"/><text><tspan x="6" y="16.3">使学生得出：先把被乘数0.72扩大100倍变成</tspan><tspan x="6" y="31">72，被乘数0.72扩大了100倍，积也随着扩大</tspan><tspan x="6" y="45.7">了100倍，要求原来的积，就把乘出来的积36</tspan><tspan x="6" y="60.4">0再缩小100倍。(提示:小数末尾的0可以去掉)</tspan></text></g>
<g id="C8c" class="n g5" transform="translate(645,4683.5)"><rect width="69.5" height="25"/><text x="6" y="16.3">(5)专项练习</text></g>
<g id="C8c1" class="n g5" transform="translate(436,4683.5)"><rect width="187" height="25"/><text x="6" y="16.3">①下面各数去掉小数点有什么变化?</text></g>
<g id="C9" class="n g5" transform="translate(695,4783)"><rect width="112" height="25"/><text x="6" y="16.3">0.34 3.5 0.201 5.02</text></g>
<g id="C9a" class="n g5" transform="translate(435,4734.5)"><rect width="238" height="40"/><text><tspan x="6" y="16.3">②把353缩小10倍是多少?缩小100倍呢?100</tspan><tspan x="6" y="31">0倍呢?</tspan></text></g>
<g id="C9b" class="n g5" transform="translate(628.5,4825)"><rect width="44.5" height="25"/><text x="6" y="16.3">③判断</text></g>
<g id="C9b1" class="n g5" transform="translate(570,4799)"><rect width="36.5" height="25"/><text x="6" y="16.3">1 3.5</text></g>
<g id="C9b2" class="n g5" transform="translate(577.5,4849.5)"><rect width="29" height="25"/><text x="6" y="16.3">× 2</text></g>
<g id="C10" class="n g5" transform="translate(769.5,5002.5)"><rect width="37.5" height="25"/><text x="6" y="16.3">2.7 0</text></g>
<g id="C10a" class="n g5" transform="translate(598,5002.5)"><rect width="150.5" height="25"/><text x="6" y="16.3">(6)小结小数乘整数计算方法</text></g>
<g id="C10a1" class="n g5" transform="translate(413,4899.5)"><rect width="163" height="25"/><text x="6" y="16.3">计算 7 ×4 0.7×4 25×7 2.5×7</text></g>
<g id="C10a2" class="n g5" transform="translate(338,4950)"><rect width="238" height="40"/><text><tspan x="6" y="16.3">观察这2组题，想想与整数乘整数有什么不同</tspan><tspan x="6" y="31">?怎样计算小数乘以整数?</tspan></text></g>
<g id="C10a3" class="n g5" transform="translate(338,5015)"><rect width="238" height="40"/><text><tspan x="6" y="16.3">① 先把小数扩大成整数;② 按整数乘法的法则</tspan><tspan x="6" y="31">算出积;</tspan></text></g>
<g id="C10a4" class="n g5" transform="translate(338,5098)"><rect width="238" height="40"/><text><tspan x="6" y="16.3">③ 再看被乘数有几位小数，就从积的右边起</tspan><tspan x="6" y="31">数出几位，点上小数点。</tspan></text></g>
<g id="C10a4a" class="n g5" transform="translate(206.5,5080)"><rect width="109.5" height="25"/><text x="6" y="16.3">l 专项练习 练习一 4</text></g>
<g id="C10a4b" class="n g5" transform="translate(260.5,5131)"><rect width="55.5" height="25"/><text x="6" y="16.3">二、运用</text></g>
<g id="C11" class="n g5" transform="translate(743.5,5181.5)"><rect width="63.5" height="25"/><text x="6" y="16.3">1、填空。</text></g>
<g id="C12" class="n g5" transform="translate(718.5,5257)"><rect width="88.5" height="25"/><text x="6" y="16.3">4.5 ( ) 0 .7 4 ( )</text></g>
<g id="C12a" class="n g5" transform="translate(602,5231.5)"><rect width="94.5" height="25"/><text x="6" y="16.3">× 3 × 3 × 2 × 2</text></g>
<g id="C12b" class="n g5" transform="translate(600.5,5281.5)"><rect width="96" height="25"/><text x="6" y="16.3">( ) 1 3 5 ( ) 1 4 8</text></g>
<g id="C13" class="n g5" transform="translate(715.5,5380.5)"><rect width="91.5" height="25"/><text x="6" y="16.3">2、做一做 书p2</text></g>
<g id="C13a" class="n g5" transform="translate(456,5331)"><rect width="238" height="40"/><text><tspan x="6" y="16.3">三、体验：(1)今天我们学习了什么?(板书课</tspan><tspan x="6" y="31">题) (2)小数乘以整数的计算方法是什么?</tspan></text></g>
<g id="C13b" class="n g5" transform="translate(493.5,5422)"><rect width="200.5" height="25"/><text x="6" y="16.3">四、作业： 练习一 1、2、3 个人修改</text></g>
<g id="C13b1" class="n g5" transform="translate(427,5422)"><rect width="44.5" height="25"/><text x="6" y="16.3">口算：</text></g>
<g id="C13b1a" class="n g5" transform="translate(359.5,5396.5)"><rect width="45.5" height="25"/><text x="6" y="16.3">70×30</text></g>
<g id="C13b1b" class="n g5" transform="translate(352.5,5447)"><rect width="52.5" height="25"/><text x="6" y="16.3">45×100</text></g>
<g id="C14" class="n g5" transform="translate(758.5,5498)"><rect width="48.5" height="25"/><text x="6" y="16.3">5.6×10</text></g>
<g id="C15" class="n g5" transform="translate(745,5548.5)"><rect width="62" height="25"/><text x="6" y="16.3">7.3×1000</text></g>
<g id="C16" class="n g5" transform="translate(751,5598.5)"><rect width="56" height="25"/><text x="6" y="16.3">0.75×10</text></g>
<g id="C17" class="n g5" transform="translate(738,5685)"><rect width="69" height="25"/><text x="6" y="16.3">0.008×100</text></g>
<g id="C17a" class="n g5" transform="translate(478.5,5649.5)"><rect width="238" height="40"/><text><tspan x="6" y="16.3">注意：如果积的末尾有0，要先点上积的小数</tspan><tspan x="6" y="31">点，再把小数末尾的"0"去掉。</tspan></text></g>
<g id="C17b" class="n g5" transform="translate(582.5,5715)"><rect width="134" height="25"/><text x="6" y="16.3">板书设计： 小数乘整数1</text></g>
<g id="C18" class="n g5" transform="translate(737,5814.5)"><rect width="70" height="25"/><text x="6" y="16.3">3.5元 3 5角</text></g>
<g id="C18a" class="n g5" transform="translate(665,5764.5)"><rect width="51" height="25"/><text x="6" y="16.3">× 3 × 3</text></g>
<g id="C18b" class="n g5" transform="translate(619,5814.5)"><rect width="97" height="25"/><text x="6" y="16.3">1 0. 5 元 1 0 5角</text></g>
<g id="C18c" class="n g5" transform="translate(687,5865)"><rect width="29" height="25"/><text x="6" y="16.3">例2</text></g>
<g id="C19" class="n g5" transform="translate(655.5,5916)"><rect width="151.5" height="25"/><text x="6" y="16.3">0. 7 2 扩大到它的100倍 7 2</text></g>
<g id="C19a" class="n g5" transform="translate(582.5,5916)"><rect width="51" height="25"/><text x="6" y="16.3">× 5 × 5</text></g>
<g id="C20" class="n g5" transform="translate(737,5999)"><rect width="70" height="25"/><text x="6" y="16.3">3. 6 0 3 6 0</text></g>
<g id="C20a" class="n g5" transform="translate(615.5,5967)"><rect width="99" height="25"/><text x="6" y="16.3">缩小到它的1/100</text></g>
<g id="C20b" class="n g5" transform="translate(476.5,6017)"><rect width="238" height="54.5"/><text><tspan x="6" y="16.3">教后反思：学生基本能理解小数乘法的算理，</tspan><tspan x="6" y="31">但是在计算完后小数点经常点错。下节课要进</tspan><tspan x="6" y="45.7">行专项练习。</tspan></text></g>

<g id="D1" class="n g2" transform="translate(1752,1037)"><rect width="64.5" height="25"/><text x="6" y="16.3">[教学目标]</text></g>
<g id="D2" class="n g2" transform="translate(1752,1086)"><rect width="239" height="40"/><text><tspan x="6" y="16.3">1、通过生活中的情境，进一步体会小数除法</tspan><tspan x="6" y="31">在实际生活中的应用。</tspan></text></g>
<g id="D3" class="n g2" transform="translate(1752,1151)"><rect width="239" height="40"/><text><tspan x="6" y="16.3">2、利用已有知识，自主探究除数是整数商是</tspan><tspan x="6" y="31">小数的小数除法的计算方法。</tspan></text></g>
<g id="D4" class="n g2" transform="translate(1752,1410)"><rect width="239" height="54.5"/><text><tspan x="6" y="16.3">3、正确掌握已学过的小数除法的计算方法，</tspan><tspan x="6" y="31">并能运用小数除法解决日常生活中的简单问题</tspan><tspan x="6" y="45.7">。</tspan></text></g>
<g id="D4a" class="n g2" transform="translate(2012.5,1216)"><rect width="239" height="40"/><text><tspan x="6" y="16.3">[教学重点]除数是整数，商是小数的小数除法</tspan><tspan x="6" y="31">的计算方法。</tspan></text></g>
<g id="D4b" class="n g2" transform="translate(2012.5,1281.5)"><rect width="239" height="40"/><text><tspan x="6" y="16.3">[教学难点]除得的结果有余数，补"0"继续除</tspan><tspan x="6" y="31">。</tspan></text></g>
<g id="D4c" class="n g2" transform="translate(2012.5,1347)"><rect width="64" height="25"/><text x="6" y="16.3">[教学过程]</text></g>
<g id="D4d" class="n g2" transform="translate(2012.5,1469.5)"><rect width="78.5" height="25"/><text x="6" y="16.3">一、复习导入</text></g>
<g id="D4d1" class="n g2" transform="translate(2113.5,1469.5)"><rect width="124.5" height="25"/><text x="6" y="16.3">课件出示情境主题图：</text></g>
<g id="D4d1a" class="n g2" transform="translate(2259,1397)"><rect width="239" height="54.5"/><text><tspan x="6" y="16.3">开学了，班级购置了</tspan><tspan x="6" y="31">帚共花了18.6元，</tspan><tspan x="6" y="45.7">能提出哪些问题?</tspan></text></g>
<g id="D4d1b" class="n g2" transform="translate(2259,1476)"><rect width="239" height="25"/><text x="6" y="16.3">引导学生列出算式</text></g>
<g id="D4d1c" class="n g2" transform="translate(2259,1526.5)"><rect width="239" height="25"/><text x="6" y="16.3">计算后说一说整数</text></g>
<g id="D4e" class="n g2" transform="translate(2012.5,1627.5)"><rect width="159.5" height="25"/><text x="6" y="16.3">二、对比中探索，交流中生成</text></g>
<g id="D4e1" class="n g2" transform="translate(2193,1577)"><rect width="239" height="54.5"/><text><tspan x="6" y="16.3">师：复习题中的两道问题同学们</tspan><tspan x="6" y="31">，如果老师把它们稍作改动，你</tspan><tspan x="6" y="45.7">呢?</tspan></text></g>
<g id="D4e2" class="n g2" transform="translate(2193,1656.5)"><rect width="239" height="40"/><text><tspan x="6" y="16.3">教师把情境题中的18.6改成18.9</tspan><tspan x="6" y="31">6.</tspan></text></g>
<g id="D5" class="n g2" transform="translate(1752,1721)"><rect width="143" height="25"/><text x="6" y="16.3">1、初步尝试，发现问题。</text></g>
<g id="D5a" class="n g2" transform="translate(1917,1721)"><rect width="198" height="25"/><text x="6" y="16.3">请你尝试计算这两题，你发现了什么?</text></g>
<g id="D6" class="n g2" transform="translate(1752,1779)"><rect width="143" height="25"/><text x="6" y="16.3">2、独立思考，尝试解决。</text></g>
<g id="D6a" class="n g2" transform="translate(1917,1771)"><rect width="237.5" height="40"/><text><tspan x="6" y="16.3">师：有余数还能不能继续除下去?该怎么继续</tspan><tspan x="6" y="31">除?试算18.9÷6</tspan></text></g>
<g id="D7" class="n g2" transform="translate(1752,1918)"><rect width="143" height="25"/><text x="6" y="16.3">3、讨论交流，异中求同。</text></g>
<g id="D7a" class="n g2" transform="translate(1917,1837)"><rect width="184" height="25"/><text x="6" y="16.3">(1)在小组内汇报自己的计算方法。</text></g>
<g id="D7b" class="n g2" transform="translate(1917,1887.5)"><rect width="237.5" height="40"/><text><tspan x="6" y="16.3">(2)展示汇报。(可能出现第4页中几种不同的</tspan><tspan x="6" y="31">方法)</tspan></text></g>
<g id="D7c" class="n g2" transform="translate(1917,1996.5)"><rect width="212" height="25"/><text x="6" y="16.3">(3)对比这几种方法：有什么相同的地方?</text></g>
<g id="D7c1" class="n g2" transform="translate(2151,1953.5)"><rect width="239" height="113"/><text><tspan x="6" y="16.3">引导学生发现，无论是转化成整数，拆分</tspan><tspan x="6" y="31">与小数分别除，还是竖式的方法，都有一</tspan><tspan x="6" y="45.7">同的地方，就是小数的末尾可以添"0"继续</tspan><tspan x="6" y="60.4">，在具体的情境中可以解释为，18元里有</tspan><tspan x="6" y="75.1">3元，9角里有6个1角，剩余的3角可以换</tspan><tspan x="6" y="89.8">30分，30分里有6个5分，合在一起就是3</tspan><tspan x="6" y="104.5">元。</tspan></text></g>
<g id="D8" class="n g2" transform="translate(1752,2159.5)"><rect width="143" height="25"/><text x="6" y="16.3">4、应用方法，归纳总结。</text></g>
<g id="D8a" class="n g2" transform="translate(1917,2090.5)"><rect width="84.5" height="25"/><text x="6" y="16.3">竖式计算26÷4</text></g>
<g id="D8b" class="n g2" transform="translate(1917,2141)"><rect width="237.5" height="54.5"/><text><tspan x="6" y="16.3">(1)引导学生发现，整数除以整数有余数时，</tspan><tspan x="6" y="31">可以在被除数个位后点小数点，添"0"继续除</tspan><tspan x="6" y="45.7">，商的小数点一定要与被除数的小数点对齐。</tspan></text></g>
<g id="D8c" class="n g2" transform="translate(1917,2221)"><rect width="237.5" height="40"/><text><tspan x="6" y="16.3">(2)尝试总结除数是整数的小数除法的计算方</tspan><tspan x="6" y="31">法。</tspan></text></g>
<g id="D8c1" class="n g2" transform="translate(2177,2228.5)"><rect width="90" height="25"/><text x="6" y="16.3">三、巩固练习。</text></g>
<g id="D9" class="n g2" transform="translate(1752,2285.5)"><rect width="239" height="40"/><text><tspan x="6" y="16.3">1、买16个玩具恐龙花了12元，平均每个玩具</tspan><tspan x="6" y="31">恐龙多少元?</tspan></text></g>
<g id="D10" class="n g2" transform="translate(1752,2351)"><rect width="86" height="25"/><text x="6" y="16.3">2、错题诊所。</text></g>
<g id="D10a" class="n g2" transform="translate(1860,2351)"><rect width="193" height="25"/><text x="6" y="16.3">209÷5=41810÷25=41.26÷18=0.7</text></g>
<g id="D11" class="n g2" transform="translate(1752,2401)"><rect width="239" height="40"/><text><tspan x="6" y="16.3">3、先估算下面各题的商哪些大于1，哪些小</tspan><tspan x="6" y="31">于1，再竖式计算。32÷812÷252.45÷3</tspan></text></g>
<g id="D12" class="n g2" transform="translate(1752,2555)"><rect width="239" height="54.5"/><text><tspan x="6" y="16.3">4、一只蜜蜂的飞行速度是蝴蝶的2倍，如果</tspan><tspan x="6" y="31">蜜蜂每小时飞行11千米，蝴蝶每小时能飞行</tspan><tspan x="6" y="45.7">多少千米?</tspan></text></g>
<g id="D12a" class="n g2" transform="translate(2012.5,2466)"><rect width="171" height="25"/><text x="6" y="16.3">[课堂总结]本节课你有哪些收获?</text></g>
<g id="D12b" class="n g2" transform="translate(2012.5,2516.5)"><rect width="64" height="25"/><text x="6" y="16.3">[板书设计]</text></g>
<g id="D12c" class="n g2" transform="translate(2012.5,2567)"><rect width="56" height="25"/><text x="6" y="16.3">打扫卫生</text></g>
<g id="D12d" class="n g2" transform="translate(2012.5,2617)"><rect width="204" height="25"/><text x="6" y="16.3">商的小数点要和被除数的小数点对齐。</text></g>
<g id="D12e" class="n g2" transform="translate(2012.5,2667)"><rect width="238.5" height="40"/><text><tspan x="6" y="16.3">除到被除数的末尾有余数时，要在余数后边添</tspan><tspan x="6" y="31">"0"继续除。</tspan></text></g>

<g id="E1" class="n g4" transform="translate(1752,2732)"><rect width="239" height="54.5"/><text><tspan x="6" y="16.3">1、通过"打电话"的情境，体会生活中存在着</tspan><tspan x="6" y="31">需要用除数是小数除法去解决的问题，进一步</tspan><tspan x="6" y="45.7">体会数学与生活密切联系。</tspan></text></g>
<g id="E2" class="n g4" transform="translate(1752,2811.5)"><rect width="239" height="54.5"/><text><tspan x="6" y="16.3">2、利用已有知识，经历探索除数是小数的小</tspan><tspan x="6" y="31">数除法的计算方法的过程，体会转化的数学思</tspan><tspan x="6" y="45.7">想。</tspan></text></g>
<g id="E3" class="n g4" transform="translate(1752,3028)"><rect width="239" height="40"/><text><tspan x="6" y="16.3">3、正确掌握除数是小数的小数除法案的计算</tspan><tspan x="6" y="31">方法，并能解决有关的实际问题。</tspan></text></g>
<g id="E3a" class="n g4" transform="translate(2012.5,2891.5)"><rect width="239" height="40"/><text><tspan x="6" y="16.3">正确掌握除数是小数的小数除法案的计算方法</tspan><tspan x="6" y="31">能解决有关的实际问题。</tspan></text></g>
<g id="E3b" class="n g4" transform="translate(2012.5,2957)"><rect width="135.5" height="25"/><text x="6" y="16.3">教学方法及学生活动设计</text></g>
<g id="E3c" class="n g4" transform="translate(2012.5,3007.5)"><rect width="56" height="25"/><text x="6" y="16.3">个性调整</text></g>
<g id="E3d" class="n g4" transform="translate(2012.5,3057)"><rect width="147" height="25"/><text x="6" y="16.3">教学重点教学难点教学环节</text></g>
<g id="E3e" class="n g4" transform="translate(2012.5,3107)"><rect width="239" height="40"/><text><tspan x="6" y="16.3">问提问生活中有哪个同学一、创设情创设"打</tspan><tspan x="6" y="31">电话"的情境，</tspan></text></g>
<g id="E3f" class="n g4" transform="translate(2012.5,3172.5)"><rect width="135.5" height="25"/><text x="6" y="16.3">有打长途电话的经验。境</text></g>
<g id="E4" class="n g4" transform="translate(1752,3425)"><rect width="239" height="40"/><text><tspan x="6" y="16.3">1、出示文主题图，让学生说一说图的意思，</tspan><tspan x="6" y="31">并讨论如何解决"谁打电话的时间长"的问题。</tspan></text></g>
<g id="E4a" class="n g4" transform="translate(2012.5,3323.5)"><rect width="239" height="54.5"/><text><tspan x="6" y="16.3">二、自主探2、组织学生探索如何计算4.83÷0</tspan><tspan x="6" y="31">.7和45÷7.2的究，创建数得数时,在探索之前,</tspan><tspan x="6" y="45.7">先引导学生比较这两个算式</tspan></text></g>
<g id="E4a1" class="n g4" transform="translate(2273,3223.5)"><rect width="239" height="40"/><text><tspan x="6" y="16.3">和前面学习的小数</tspan><tspan x="6" y="31">会到学模型</tspan></text></g>
<g id="E4a2" class="n g4" transform="translate(2273,3287.5)"><rect width="239" height="40"/><text><tspan x="6" y="16.3">如果除数变成整数</tspan><tspan x="6" y="31">识转</tspan></text></g>
<g id="E4a3" class="n g4" transform="translate(2273,3352.5)"><rect width="239" height="54.5"/><text><tspan x="6" y="16.3">化为已有的知识，</tspan><tspan x="6" y="31">，但都是要把被除</tspan><tspan x="6" y="45.7">使除数变</tspan></text></g>
<g id="E4a4" class="n g4" transform="translate(2273,3432.5)"><rect width="239" height="54.5"/><text><tspan x="6" y="16.3">成整数，再按照</tspan><tspan x="6" y="31">。1、试一试：其</tspan><tspan x="6" y="45.7">。56被除</tspan></text></g>
<g id="E4b" class="n g4" transform="translate(2012.5,3511)"><rect width="239" height="54.5"/><text><tspan x="6" y="16.3">三、巩固数和除数同时扩大100倍后，被除数</tspan><tspan x="6" y="31">末尾需要补0，与应用2。7÷7。5被除数和除</tspan><tspan x="6" y="45.7">数同时扩大10倍后，被除数</tspan></text></g>
<g id="E4b1" class="n g4" transform="translate(2273,3519)"><rect width="239" height="40"/><text><tspan x="6" y="16.3">比除数小，商的</tspan><tspan x="6" y="31">反馈时要引起学生</tspan></text></g>
<g id="E5" class="n g4" transform="translate(1752,3591)"><rect width="192.5" height="25"/><text x="6" y="16.3">2、练一练/1，2，3——补充练习：</text></g>
<g id="E6" class="n g4" transform="translate(1752,3641.5)"><rect width="239" height="40"/><text><tspan x="6" y="16.3">1、把下面各题变成除数是整数的除法：4.68</tspan><tspan x="6" y="31">÷1.2=□÷122.38÷0.34=</tspan></text></g>
<g id="E6a" class="n g4" transform="translate(2012.5,3641.5)"><rect width="239" height="40"/><text><tspan x="6" y="16.3">□÷□5.2÷0.325=□÷325161÷0.46=□÷□2.笔</tspan><tspan x="6" y="31">算。6.84÷0.91225.84÷1.799.6÷41.5</tspan></text></g>
<g id="E7" class="n g4" transform="translate(1752,3753.5)"><rect width="69" height="25"/><text x="6" y="16.3">220.5÷147</text></g>
<g id="E7a" class="n g4" transform="translate(1843,3746)"><rect width="238" height="40"/><text><tspan x="6" y="16.3">一、创设情境二、自主探究，创建数学模型三</tspan><tspan x="6" y="31">、巩固与应用</tspan></text></g>
<g id="E7a1" class="n g4" transform="translate(2103,3706)"><rect width="238" height="40"/><text><tspan x="6" y="16.3">呈现中国银行2003年3月公布的关于外币和人</tspan><tspan x="6" y="31">民币之间的比率。</tspan></text></g>
<g id="E7a2" class="n g4" transform="translate(2103,3772)"><rect width="238" height="69"/><text><tspan x="6" y="16.3">首先引导学生进行解答。由于货币的最小单位</tspan><tspan x="6" y="31">一般是"分"，以"元"为单位时第三位小数没有</tspan><tspan x="6" y="45.7">意义，所以一般需要保留两位小数，因此学生</tspan><tspan x="6" y="60.4">将体会到求积，商近似值在生活中的应用。</tspan></text></g>
<g id="E8" class="n g4" transform="translate(1752,3923)"><rect width="239" height="54.5"/><text><tspan x="6" y="16.3">1、试一试，可以让学生用计算器算出得数，</tspan><tspan x="6" y="31">然后根据得数按要求用四舍五入法求出近似值</tspan><tspan x="6" y="45.7">。2、练一练：P71/1，2，3，4</tspan></text></g>
<g id="E8a" class="n g4" transform="translate(2012.5,3866)"><rect width="239" height="40"/><text><tspan x="6" y="16.3">第1题：这是人民币和港币的兑换，12.5÷1。</tspan><tspan x="6" y="31">07，</tspan></text></g>
<g id="E8b" class="n g4" transform="translate(2012.5,3996)"><rect width="239" height="40"/><text><tspan x="6" y="16.3">四、总结。超过了11元港币;也可以用兵1×1.</tspan><tspan x="6" y="31">07，不到本世</tspan></text></g>
<g id="E8b1" class="n g4" transform="translate(2273,3931)"><rect width="239" height="25"/><text x="6" y="16.3">纪末2元，因此1</text></g>
<g id="E8b2" class="n g4" transform="translate(2273,3981.5)"><rect width="239" height="69"/><text><tspan x="6" y="16.3">第2题：这是人民</tspan><tspan x="6" y="31">是：5000×7.09</tspan><tspan x="6" y="45.7">00.第3题:这是欧</tspan><tspan x="6" y="60.4">750(元)不需要近</tspan></text></g>
<g id="E8b3" class="n g4" transform="translate(2273,4075)"><rect width="239" height="25"/><text x="6" y="16.3">根据学生的练习</text></g>

<g id="F1" class="n g6" transform="translate(1752,4126)"><rect width="222" height="25"/><text x="6" y="16.3">★ 2021年最新苏教版五年级数学上册教案</text></g>
<g id="F2" class="n g6" transform="translate(1752,4176.5)"><rect width="233.5" height="25"/><text x="6" y="16.3">★ 2021最新苏教版五年级数学上册教案文案</text></g>
<g id="F3" class="n g6" transform="translate(1752,4226)"><rect width="239" height="40"/><text><tspan x="6" y="16.3">★ 2021最新苏教版五年级数学上册总复习教</tspan><tspan x="6" y="31">案</tspan></text></g>
<g id="F4" class="n g6" transform="translate(1752,4292)"><rect width="222" height="25"/><text x="6" y="16.3">★ 2021版最新苏教版五年级数学附录教案</text></g>
<g id="F5" class="n g6" transform="translate(1752,4342)"><rect width="210" height="25"/><text x="6" y="16.3">★ 苏教版五年级数学上册教案2021例文</text></g>
<g id="F6" class="n g6" transform="translate(1752,4392.5)"><rect width="233.5" height="25"/><text x="6" y="16.3">★ 苏教版小学五年级数学上册教案2021最新</text></g>
<g id="F7" class="n g6" transform="translate(1752,4443)"><rect width="222" height="25"/><text x="6" y="16.3">★ 2021义务教育五年级数学上册教案文案</text></g>
<g id="F8" class="n g6" transform="translate(1752,4493.5)"><rect width="222" height="25"/><text x="6" y="16.3">★ 2021年苏教版五年级上册数学教案模板</text></g>
<g id="F9" class="n g6" transform="translate(1752,4543.5)"><rect width="233.5" height="25"/><text x="6" y="16.3">★ 苏教版五年级上册数学全册教案2021模板</text></g>
<g id="F10" class="n g6" transform="translate(1752,4594)"><rect width="233.5" height="25"/><text x="6" y="16.3">★ 苏教版五年级上册全册数学教案2021例文</text></g>
</g>
</svg>
